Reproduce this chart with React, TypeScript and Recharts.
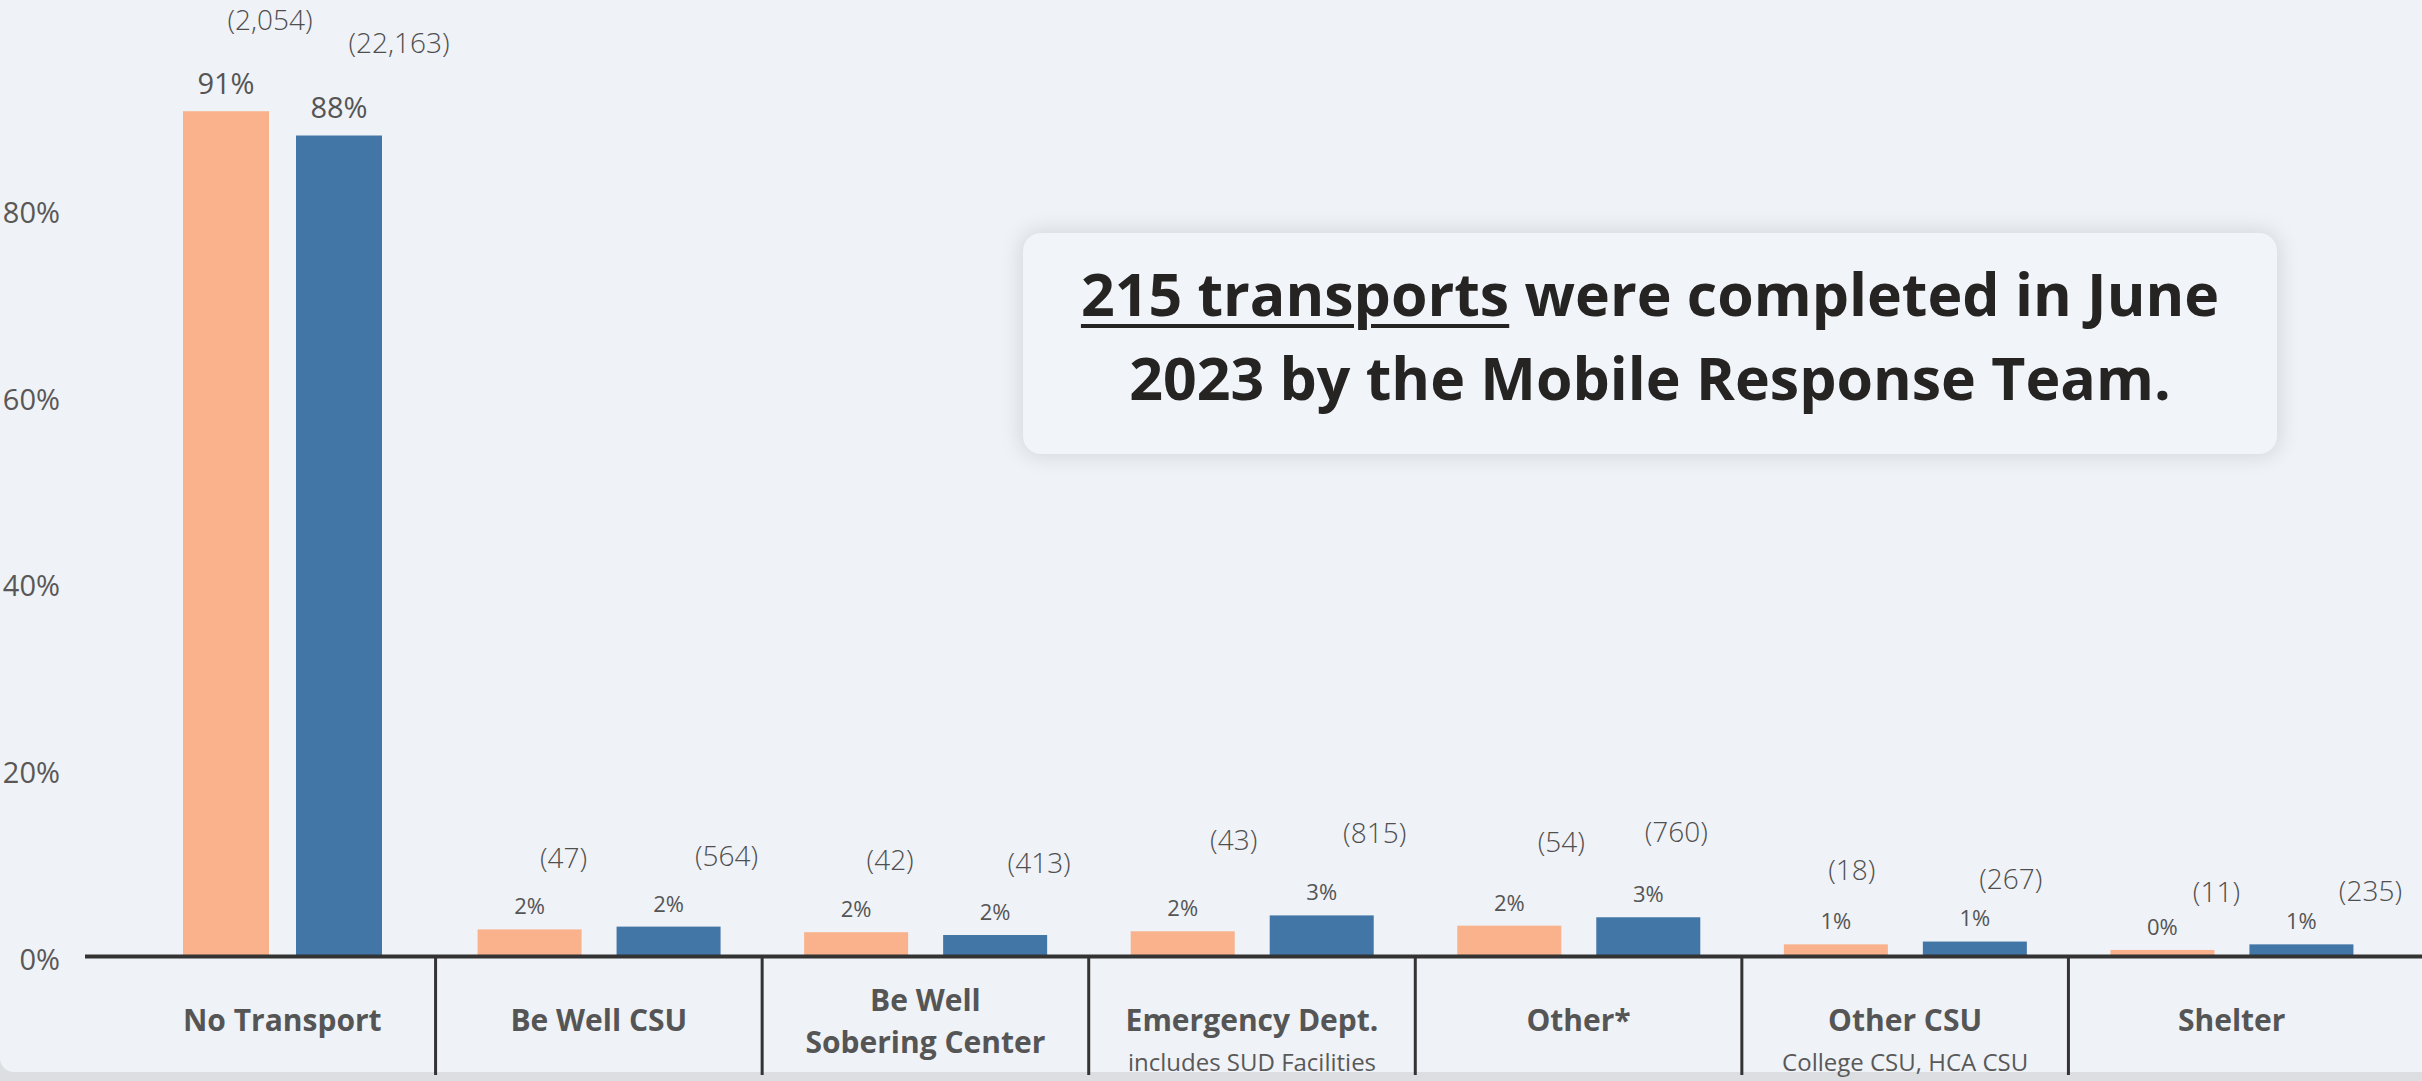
import React from 'react';
import { BarChart, Bar, XAxis, YAxis, LabelList } from 'recharts';

// ---------- data ----------
const categories = [
  'No Transport',
  'Be Well CSU',
  'Be Well Sobering Center',
  'Emergency Dept.',
  'Other*',
  'Other CSU',
  'Shelter',
];
const categoryLines = [
  ['No Transport'],
  ['Be Well CSU'],
  ['Be Well', 'Sobering Center'],
  ['Emergency Dept.'],
  ['Other*'],
  ['Other CSU'],
  ['Shelter'],
];
const categoryNotes = ['', '', '', 'includes SUD Facilities', '', 'College CSU, HCA CSU', ''];

// bar heights (% of transports)
const juneShare = [90.5, 2.9, 2.6, 2.7, 3.3, 1.3, 0.7];
const ytdShare = [87.9, 3.2, 2.3, 4.4, 4.2, 1.6, 1.3];

// printed labels
const junePctLabels = ['91%', '2%', '2%', '2%', '2%', '1%', '0%'];
const ytdPctLabels = ['88%', '2%', '2%', '3%', '3%', '1%', '1%'];
const juneCounts = [2054, 47, 42, 43, 54, 18, 11];
const ytdCounts = [22163, 564, 413, 815, 760, 267, 235];

const yTicks = [0, 20, 40, 60, 80];

// label nudges relative to each bar (dx from bar centre, rise above bar top)
const juneCountNudge = [[44, 91], [34, 71], [34, 72], [51, 91], [52, 83], [16, 74], [54, 57]];
const ytdCountNudge = [[60, 92], [58, 70], [44, 72], [53, 82], [28, 85], [36, 62], [69, 53]];

const data = categories.map((c, i) => ({ category: c, june: juneShare[i], ytd: ytdShare[i] }));

// ---------- layout ----------
const W = 2422;
const H = 1081;
const PLOT_LEFT = 85;
const PAD_L = 24;
const PAD_R = 27;
const BAND = (W - PLOT_LEFT - PAD_L - PAD_R) / categories.length;
const BAR_W = 104;
const BAR_GAP = 35;
const NARROW_W = 86;
const NARROW_GAP = 27;
const FIRST_SHIFT = 10;

const ORANGE = '#F9B28B';
const BLUE = '#4176A6';
const FONT = "'Segoe UI', 'Open Sans', sans-serif";

function adjust(x: number, w: number, index: number, series: number) {
  if (index !== 0) return { x, w };
  const c = (series === 0 ? x + w + BAR_GAP / 2 : x - BAR_GAP / 2) + FIRST_SHIFT;
  return series === 0
    ? { x: c - NARROW_GAP / 2 - NARROW_W, w: NARROW_W }
    : { x: c + NARROW_GAP / 2, w: NARROW_W };
}

const makeShape = (series: number) => (props: any) => {
  const { x, y, width, height, index, fill } = props;
  const a = adjust(x, width, index, series);
  return <rect x={a.x} y={y} width={a.w} height={height} fill={fill} />;
};

const makeLabel = (series: number) => (props: any) => {
  const vb = props.viewBox || props;
  const index: number = props.index;
  if (index === undefined || vb == null) return null;
  const a = adjust(vb.x, vb.width, index, series);
  const cx = a.x + a.w / 2;
  const top = vb.y;
  const big = index === 0;
  const pfs = big ? 29 : 22;
  const pct = series === 0 ? junePctLabels[index] : ytdPctLabels[index];
  const count = series === 0 ? juneCounts[index] : ytdCounts[index];
  const nudge = series === 0 ? juneCountNudge[index] : ytdCountNudge[index];
  const cfs = 28;
  return (
    <g>
      <text
        x={cx}
        y={top - (big ? 28 : 23) + 0.36 * pfs}
        textAnchor="middle"
        fontSize={pfs}
        fontFamily={FONT}
        fill="#555555"
      >
        {pct}
      </text>
      <text
        x={cx + nudge[0]}
        y={top - nudge[1] + 0.34 * cfs}
        textAnchor="middle"
        fontSize={cfs}
        fontWeight={300}
        fontFamily={FONT}
        fill="#4F4F4F"
      >
        {'(' + count.toLocaleString('en-US') + ')'}
      </text>
    </g>
  );
};

const CategoryTick = (props: any) => {
  const { y, payload } = props;
  let i: number = props.index ?? payload?.index;
  if (i === undefined) i = categories.indexOf(payload.value);
  const x = props.x + (i === 0 ? FIRST_SHIFT : 0);
  const lines = categoryLines[i];
  const note = categoryNotes[i];
  const fs = 30;
  const common = {
    textAnchor: 'middle' as const,
    fontFamily: FONT,
    fill: '#555555',
  };
  return (
    <g>
      {i < categories.length - 1 && (
        <line
          x1={props.x + BAND / 2}
          x2={props.x + BAND / 2}
          y1={y}
          y2={y + 118.5}
          stroke="#333333"
          strokeWidth={3}
        />
      )}
      {lines.length === 1 ? (
        <text x={x} y={y + 63.5 + 0.36 * fs} fontSize={fs} fontWeight={700} {...common}>
          {lines[0]}
        </text>
      ) : (
        <>
          <text x={x} y={y + 43.5 + 0.36 * fs} fontSize={fs} fontWeight={700} {...common}>
            {lines[0]}
          </text>
          <text x={x} y={y + 85.5 + 0.36 * fs} fontSize={fs} fontWeight={700} {...common}>
            {lines[1]}
          </text>
        </>
      )}
      {note && (
        <text x={x} y={y + 105.5 + 0.36 * 24} fontSize={24} {...common} fill="#595959">
          {note}
        </text>
      )}
    </g>
  );
};

const PercentTick = (props: any) => {
  const { x, y, payload } = props;
  const fs = 29;
  return (
    <text x={x} y={y + 3 + 0.36 * fs} textAnchor="end" fontSize={fs} fontFamily={FONT} fill="#5A5856">
      {payload.value + '%'}
    </text>
  );
};

export default function App() {
  return (
    <div
      style={{
        position: 'absolute',
        left: 0,
        top: 0,
        width: W,
        height: H,
        overflow: 'hidden',
        background: '#DCDEE1',
        fontFamily: FONT,
      }}
    >
      <div
        style={{
          position: 'absolute',
          left: 0,
          top: 0,
          width: W,
          height: 1072,
          background: '#EFF2F7',
          borderBottomLeftRadius: 14,
        }}
      />
      <div style={{ position: 'absolute', left: 0, top: 0 }}>
        <BarChart
          width={W}
          height={H}
          data={data}
          margin={{ top: 22.5, right: 0, left: 0, bottom: 0 }}
          barSize={BAR_W}
          barGap={BAR_GAP}
        >
          <YAxis
            type="number"
            domain={[0, 100]}
            ticks={yTicks}
            axisLine={false}
            tickLine={false}
            tickSize={0}
            tickMargin={25}
            width={PLOT_LEFT}
            tick={<PercentTick />}
          />
          <XAxis
            dataKey="category"
            type="category"
            padding={{ left: PAD_L, right: PAD_R }}
            axisLine={{ stroke: '#333333', strokeWidth: 4 }}
            tickLine={false}
            tickSize={0}
            tickMargin={0}
            height={124.5}
            interval={0}
            tick={<CategoryTick />}
          />
          <Bar dataKey="june" name="June 2023" fill={ORANGE} isAnimationActive={false} shape={makeShape(0)}>
            <LabelList dataKey="june" content={makeLabel(0)} />
          </Bar>
          <Bar dataKey="ytd" name="Year to Date" fill={BLUE} isAnimationActive={false} shape={makeShape(1)}>
            <LabelList dataKey="ytd" content={makeLabel(1)} />
          </Bar>
        </BarChart>
      </div>
      <div
        style={{
          position: 'absolute',
          left: 1023,
          top: 233,
          width: 1254,
          height: 221,
          borderRadius: 18,
          background: '#F1F4F9',
          boxShadow: '0 0 20px 4px rgba(0,0,0,0.10)',
          boxSizing: 'border-box',
          paddingTop: 18,
          textAlign: 'center',
          fontFamily: FONT,
          fontWeight: 700,
          fontSize: 59,
          lineHeight: '84px',
          color: '#252423',
          whiteSpace: 'nowrap',
        }}
      >
        <span style={{ textDecoration: 'underline', textDecorationThickness: 4, textUnderlineOffset: 8 }}>
          215 transports
        </span>{' '}
        were completed in June
        <br />
        2023 by the Mobile Response Team.
      </div>
    </div>
  );
}
